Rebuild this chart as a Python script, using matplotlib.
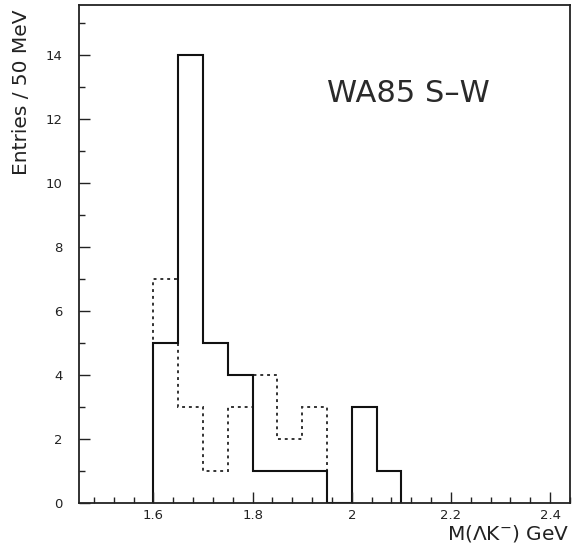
import matplotlib
matplotlib.use("Agg")
import matplotlib.pyplot as plt
import numpy as np
from matplotlib.ticker import MultipleLocator, FixedLocator

# Data
bin_width = 0.05
solid_start = 1.60
solid_counts = [5, 14, 5, 4, 1, 1, 1, 0, 3, 1]
dashed_start = 1.60
dashed_counts = [7, 3, 1, 3, 4, 2, 3]
x_ticks = [1.6, 1.8, 2.0, 2.2, 2.4]
x_tick_labels = ["1.6", "1.8", "2", "2.2", "2.4"]
y_ticks = [0, 2, 4, 6, 8, 10, 12, 14]

fig = plt.figure(figsize=(5.76, 5.49), dpi=100)
ax = fig.add_axes([79/576, 1-503/549, (570-79)/576, (503-5)/549])

solid_edges = solid_start + bin_width*np.arange(len(solid_counts)+1)
dashed_edges = dashed_start + bin_width*np.arange(len(dashed_counts)+1)

ax.stairs(dashed_counts, dashed_edges, baseline=0, color="#333333",
          linewidth=1.4, linestyle=(0, (1.5, 2.0)))
ax.stairs(solid_counts, solid_edges, baseline=0, color="#111111", linewidth=1.5)

ax.set_xlim(1.45, 2.44)
ax.set_ylim(0, 15.55)

ax.xaxis.set_major_locator(FixedLocator(x_ticks))
ax.set_xticklabels(x_tick_labels)
ax.xaxis.set_minor_locator(MultipleLocator(0.04))
ax.yaxis.set_major_locator(FixedLocator(y_ticks))
ax.yaxis.set_minor_locator(MultipleLocator(1))

ax.tick_params(which="both", direction="in", top=False, right=False,
               labelsize=9.5, colors="#222222")
ax.tick_params(which="major", length=8, width=1)
ax.tick_params(which="minor", length=4, width=1)
ax.tick_params(axis="y", pad=12)
ax.tick_params(axis="x", pad=4)

for s in ax.spines.values():
    s.set_linewidth(1.3)
    s.set_color("#222222")

fig.text(22/576, 1-92/549, "Entries / 50 MeV", rotation=90, ha="center",
         va="center", fontsize=14.5, color="#222222")
fig.text(570/576, 1-533/549, r"M($\Lambda$K$^{-}$) GeV", ha="right",
         va="center", fontsize=14.5, color="#222222")
ax.text(0.505, 0.822, "WA85 S\u2013W", transform=ax.transAxes, ha="left",
        va="center", fontsize=22, color="#2a2a2a")

fig.savefig("out.png", dpi=100)
